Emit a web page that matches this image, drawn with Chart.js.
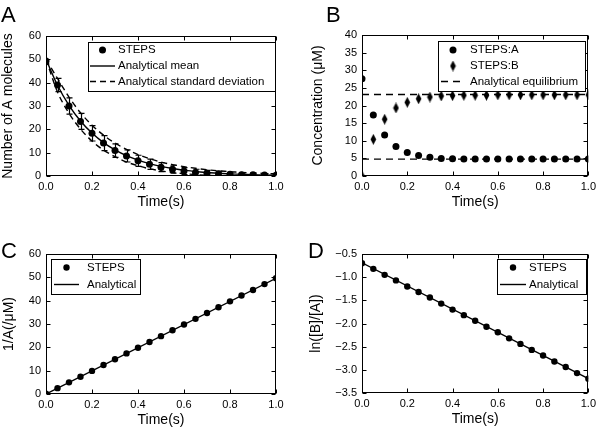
<!DOCTYPE html>
<html>
<head>
<meta charset="utf-8">
<script src="https://cdn.jsdelivr.net/npm/chart.js@4.4.1/dist/chart.umd.min.js"></script>
<style>
  body { margin: 0; background: #fff; }
  #fig { position: relative; width: 600px; height: 429px; overflow: hidden; font-family: 'Liberation Sans', Arial, Helvetica, sans-serif; }
  canvas { position: absolute; }
  .letter { position: absolute; font-size: 22px; line-height: 1; color: #000; }
</style>
</head>
<body>
<div id="fig">
  <canvas id="chartA" width="300" height="215" style="left:0;top:0"></canvas>
  <canvas id="chartB" width="300" height="215" style="left:300px;top:0"></canvas>
  <canvas id="chartC" width="300" height="214" style="left:0;top:215px"></canvas>
  <canvas id="chartD" width="300" height="214" style="left:300px;top:215px"></canvas>
  <div class="letter" style="left:1px;top:4px">A</div>
  <div class="letter" style="left:326px;top:4px">B</div>
  <div class="letter" style="left:1px;top:240px">C</div>
  <div class="letter" style="left:308px;top:240px">D</div>
</div>
<script>
// sample times (s)
const times = [0, 0.05, 0.1, 0.15, 0.2, 0.25, 0.3, 0.35, 0.4, 0.45, 0.5, 0.55, 0.6, 0.65, 0.7, 0.75, 0.8, 0.85, 0.9, 0.95, 1.0];
const timeLabels = ['0.0', '0.2', '0.4', '0.6', '0.8', '1.0'];

// A: number of A molecules
const stepsA = [49.3, 39.0, 30.0, 23.4, 18.3, 14.1, 10.9, 8.6, 6.5, 5.0, 3.8, 2.9, 2.1, 1.5, 1.2, 1.0, 0.7, 0.5, 0.5, 0.4, 0.3];
const stepsAErr = [0, 2.8, 3.5, 3.4, 3.3, 3.2, 2.9, 2.6, 2.4, 2.2, 1.9, 1.7, 1.5, 1.4, 1.2, 1.0, 0.9, 0.8, 0.7, 0.6, 0.6];
const meanA = [50, 38.9, 30.3, 23.6, 18.4, 14.3, 11.2, 8.7, 6.8, 5.3, 4.1, 3.2, 2.5, 1.9, 1.5, 1.2, 0.9, 0.7, 0.6, 0.4, 0.3];
const upperA = [50, 41.8, 33.8, 27.1, 21.8, 17.5, 14.1, 11.4, 9.2, 7.4, 6.0, 4.9, 4.0, 3.3, 2.7, 2.2, 1.9, 1.5, 1.3, 1.1, 0.9];
const lowerA = [50, 36.0, 26.9, 20.1, 15.0, 11.1, 8.3, 6.0, 4.4, 3.1, 2.2, 1.5, 1.0, 0.6, 0.3, 0.1, 0, 0, 0, 0, 0];
const ticksA = ['0', '10', '20', '30', '40', '50', '60'];

// B: concentrations (uM)
const concA = [27.6, 17.3, 11.6, 8.4, 6.7, 5.8, 5.3, 5.0, 4.9, 4.8, 4.8, 4.8, 4.8, 4.8, 4.8, 4.8, 4.8, 4.8, 4.8, 4.8, 4.8];
const concB = [0, 10.4, 16.1, 19.3, 20.9, 21.9, 22.4, 22.7, 22.8, 22.9, 22.9, 22.9, 23.0, 23.0, 23.0, 23.0, 23.0, 23.0, 23.0, 23.0, 23.0];
const eqTimes = [0, 1.0];
const eqB = [23.1, 23.1];
const eqA = [4.8, 4.8];
const ticksB = ['0', '5', '10', '15', '20', '25', '30', '35', '40'];

// C: 1/A
const invA = [0.1, 2.5, 5.0, 7.4, 9.9, 12.4, 14.9, 17.4, 19.8, 22.3, 24.8, 27.3, 29.8, 32.2, 34.7, 37.2, 39.7, 42.2, 44.6, 47.1, 49.6];
const invALine = [0, 49.6];
const ticksC = ['0', '10', '20', '30', '40', '50', '60'];

// D: ln([B]/[A])
const lnBA = [-0.70, -0.82, -0.95, -1.07, -1.20, -1.32, -1.44, -1.57, -1.70, -1.82, -1.94, -2.07, -2.19, -2.32, -2.44, -2.57, -2.69, -2.82, -2.94, -3.07, -3.19];
const lnBALine = [-0.69, -3.19];
const ticksD = ['\u22123.5', '\u22123.0', '\u22122.5', '\u22122.0', '\u22121.5', '\u22121.0', '\u22120.5'];

Chart.defaults.font.family = "'Liberation Sans', Arial, Helvetica, sans-serif";
Chart.defaults.color = '#000';
Chart.defaults.animation = false;

const pts = (xs, ys) => xs.map((t, i) => ({ x: t, y: ys[i] }));

// tall thin diamond marker, like matplotlib 'd'
const diamond = document.createElement('canvas');
diamond.width = 7; diamond.height = 11;
(function () {
  const c = diamond.getContext('2d');
  c.fillStyle = '#000';
  c.beginPath();
  c.moveTo(3.5, 0); c.lineTo(6.3, 5.5); c.lineTo(3.5, 11); c.lineTo(0.7, 5.5);
  c.closePath(); c.fill();
})();

// frame with inward ticks on all four sides
const frameTicks = {
  id: 'frameTicks',
  afterDraw(chart) {
    const { ctx, chartArea: a, scales: { x, y } } = chart;
    const L = Math.round(a.left) + 0.5, R = Math.round(a.right) - 0.5;
    const T = Math.round(a.top) + 0.5, B = Math.round(a.bottom) - 0.5;
    const len = 4;
    ctx.save();
    ctx.strokeStyle = '#000';
    ctx.lineWidth = 1;
    ctx.strokeRect(L, T, R - L, B - T);
    ctx.beginPath();
    x.ticks.forEach(t => {
      const px = Math.round(x.getPixelForValue(t.value)) + 0.5;
      ctx.moveTo(px, B); ctx.lineTo(px, B - len);
      ctx.moveTo(px, T); ctx.lineTo(px, T + len);
    });
    y.ticks.forEach(t => {
      const py = Math.round(y.getPixelForValue(t.value)) + 0.5;
      ctx.moveTo(L, py); ctx.lineTo(L + len, py);
      ctx.moveTo(R, py); ctx.lineTo(R - len, py);
    });
    ctx.stroke();
    ctx.restore();
  }
};

// vertical error bars with caps
const errorBars = {
  id: 'errorBars',
  afterDatasetsDraw(chart) {
    const { ctx, chartArea: a, scales: { x, y } } = chart;
    ctx.save();
    ctx.beginPath();
    ctx.rect(a.left, a.top, a.right - a.left, a.bottom - a.top);
    ctx.clip();
    ctx.strokeStyle = '#000';
    ctx.lineWidth = 1.2;
    chart.data.datasets.forEach(d => {
      if (!d.errors) return;
      ctx.beginPath();
      d.data.forEach((p, i) => {
        const e = d.errors[i];
        if (!e) return;
        const px = Math.round(x.getPixelForValue(p.x)) + 0.5;
        const top = y.getPixelForValue(p.y + e), bot = y.getPixelForValue(p.y - e);
        ctx.moveTo(px, top); ctx.lineTo(px, bot);
        ctx.moveTo(px - 3, top); ctx.lineTo(px + 3, top);
        ctx.moveTo(px - 3, bot); ctx.lineTo(px + 3, bot);
      });
      ctx.stroke();
    });
    ctx.restore();
  }
};

// matplotlib-style legend box inside the axes
const boxLegend = {
  id: 'boxLegend',
  afterDraw(chart, args, o) {
    const { ctx } = chart;
    ctx.save();
    ctx.fillStyle = '#fff';
    ctx.fillRect(o.x, o.y, o.w, o.h);
    ctx.strokeStyle = '#000';
    ctx.lineWidth = 1;
    ctx.strokeRect(o.x + 0.5, o.y + 0.5, o.w, o.h);
    ctx.font = o.fontSize + "px 'Liberation Sans', Arial, sans-serif";
    ctx.textBaseline = 'middle';
    ctx.fillStyle = '#000';
    const items = chart.data.datasets.filter(d => d.inLegend !== false);
    items.forEach((d, i) => {
      const yy = o.rows[i];
      const cx = (o.sample[0] + o.sample[1]) / 2;
      if (d.showLine) {
        ctx.beginPath();
        ctx.setLineDash(d.borderDash || []);
        ctx.lineWidth = d.borderWidth;
        ctx.moveTo(o.sample[0], yy); ctx.lineTo(o.sample[1], yy);
        ctx.stroke();
        ctx.setLineDash([]);
      } else if (d.pointStyle instanceof HTMLCanvasElement) {
        ctx.drawImage(d.pointStyle, cx - d.pointStyle.width / 2, yy - d.pointStyle.height / 2);
      } else {
        ctx.beginPath();
        ctx.arc(cx, yy, d.pointRadius, 0, Math.PI * 2);
        ctx.fill();
      }
      ctx.fillText(d.label, o.textX, yy);
    });
    ctx.restore();
  }
};

function makeChart(id, cfg) {
  const { datasets, yMin, yMax, yStep, yLabels, yTitle, area, canvasH, legend, yTitlePad, xTitlePad } = cfg;
  return new Chart(document.getElementById(id), {
    type: 'scatter',
    data: { datasets },
    plugins: [errorBars, frameTicks, boxLegend],
    options: {
      responsive: false,
      clip: 0,
      layout: { padding: { left: 0, top: area.top, right: 300 - area.right, bottom: 0 } },
      plugins: { legend: { display: false }, tooltip: { enabled: false }, boxLegend: legend },
      scales: {
        x: {
          type: 'linear', min: 0, max: 1,
          ticks: { stepSize: 0.2, padding: 4, font: { size: 11 }, maxRotation: 0,
                   callback: (v, i) => timeLabels[i] },
          grid: { display: false, drawTicks: false },
          border: { display: false },
          title: { display: true, text: 'Time(s)', font: { size: 14 }, padding: { top: 0, bottom: xTitlePad } },
          afterFit: s => { s.height = canvasH - area.bottom; }
        },
        y: {
          type: 'linear', min: yMin, max: yMax,
          ticks: { stepSize: yStep, padding: 5, font: { size: 11 },
                   callback: (v, i) => yLabels[i] },
          grid: { display: false, drawTicks: false },
          border: { display: false },
          title: { display: true, text: yTitle, font: { size: 14 }, padding: { top: yTitlePad, bottom: 0 } },
          afterFit: s => { s.width = area.left; }
        }
      }
    }
  });
}

const dot = { showLine: false, pointRadius: 3.5, pointStyle: 'circle', backgroundColor: '#000', borderWidth: 0 };
const solid = { showLine: true, pointRadius: 0, borderColor: '#000', borderWidth: 1.4 };
const dashed = { showLine: true, pointRadius: 0, borderColor: '#000', borderWidth: 1.4, borderDash: [6, 4] };

// A
makeChart('chartA', {
  canvasH: 215, area: { left: 46, right: 276, top: 36, bottom: 176 },
  yMin: 0, yMax: 60, yStep: 10, yLabels: ticksA, yTitle: 'Number of A molecules', yTitlePad: 0, xTitlePad: 4,
  legend: { x: 88, y: 42, w: 187, h: 49, rows: [50, 66, 81.5], sample: [90, 115], textX: 118, fontSize: 11.5 },
  datasets: [
    { ...dot, label: 'STEPS', data: pts(times, stepsA), errors: stepsAErr },
    { ...solid, label: 'Analytical mean', data: pts(times, meanA), cubicInterpolationMode: 'monotone' },
    { ...dashed, label: 'Analytical standard deviation', data: pts(times, upperA), cubicInterpolationMode: 'monotone' },
    { ...dashed, label: 'lower', inLegend: false, data: pts(times, lowerA), cubicInterpolationMode: 'monotone' }
  ]
});

// B
makeChart('chartB', {
  canvasH: 215, area: { left: 62, right: 289, top: 35, bottom: 176 },
  yMin: 0, yMax: 40, yStep: 5, yLabels: ticksB, yTitle: 'Concentration (\u03bcM)', yTitlePad: 10, xTitlePad: 4,
  legend: { x: 138, y: 41, w: 147, h: 50, rows: [50, 66, 81.5], sample: [141, 165], textX: 170, fontSize: 11.5 },
  datasets: [
    { ...dot, label: 'STEPS:A', data: pts(times, concA) },
    { ...dot, label: 'STEPS:B', data: pts(times, concB), pointStyle: diamond },
    { ...dashed, label: 'Analytical equilibrium', data: pts(eqTimes, eqB), borderDash: [7, 5] },
    { ...dashed, label: 'eqA', inLegend: false, data: pts(eqTimes, eqA), borderDash: [7, 5] }
  ]
});

// C
makeChart('chartC', {
  canvasH: 214, area: { left: 46, right: 276, top: 39, bottom: 179 },
  yMin: 0, yMax: 60, yStep: 10, yLabels: ticksC, yTitle: '1/A(/\u03bcM)', yTitlePad: 1, xTitlePad: 0,
  legend: { x: 51, y: 44, w: 89, h: 35, rows: [52.5, 69.5], sample: [54, 79], textX: 87, fontSize: 11.5 },
  datasets: [
    { ...dot, label: 'STEPS', data: pts(times, invA), pointRadius: 3.2 },
    { ...solid, label: 'Analytical', data: pts(eqTimes, invALine) }
  ]
});

// D
makeChart('chartD', {
  canvasH: 214, area: { left: 62, right: 289, top: 39, bottom: 178 },
  yMin: -3.5, yMax: -0.5, yStep: 0.5, yLabels: ticksD, yTitle: 'ln([B]/[A])', yTitlePad: 8, xTitlePad: 1,
  legend: { x: 197, y: 44, w: 89, h: 35, rows: [52.5, 69.5], sample: [200, 226], textX: 229, fontSize: 11.5 },
  datasets: [
    { ...dot, label: 'STEPS', data: pts(times, lnBA), pointRadius: 3.2 },
    { ...solid, label: 'Analytical', data: pts(eqTimes, lnBALine) }
  ]
});
</script>
</body>
</html>
